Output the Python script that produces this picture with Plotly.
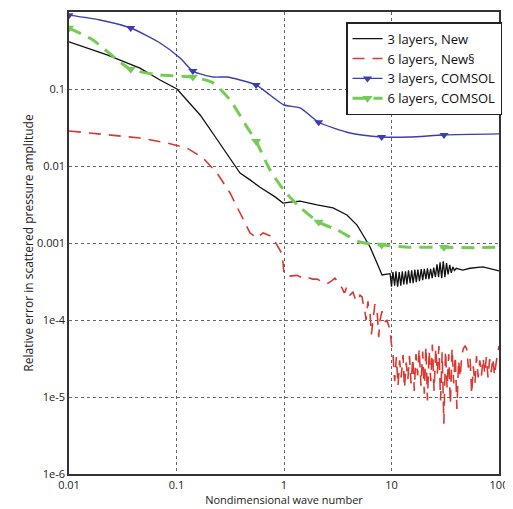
import plotly.graph_objects as go

# ---- 3 layers, New (black) ----
new3_x = [0.01, 0.0226, 0.0457, 0.0703, 0.101, 0.166, 0.23, 0.336, 0.39, 0.483, 0.598, 0.82, 0.98,
          1.14, 1.41, 2.03, 2.86, 3.85, 4.78, 5.43, 6.31, 7.33, 8.16, 9.08,
          9.7, 10.0, 10.3, 10.7, 11.0, 11.4, 11.8, 12.2, 12.6, 13.0, 13.5, 13.9, 14.4, 14.9, 15.4, 15.9,
          16.5, 17.0, 17.6, 18.2, 18.9, 19.5, 20.2, 20.9, 21.6, 22.3, 23.1, 23.9, 24.7, 25.6, 26.5, 27.4,
          28.3, 29.3, 30.3, 31.4, 32.5, 33.6, 34.8, 36.0, 37.2, 38.5, 40.0,
          46.0, 53.7, 71.0, 85.0, 100.0]
new3_y = [0.41, 0.277, 0.187, 0.131, 0.1, 0.046, 0.0238, 0.0109, 0.0081, 0.0066, 0.0053, 0.0040, 0.0033,
          0.0034, 0.0035, 0.00312, 0.00285, 0.00231, 0.00171, 0.00127, 8.9e-4, 5.5e-4, 3.84e-4, 3.95e-4,
          4.0e-4, 2.7e-4, 4.2e-4, 2.8e-4, 4.3e-4, 2.7e-4, 4.2e-4, 2.8e-4, 4.3e-4, 2.9e-4, 4.3e-4, 2.9e-4,
          4.4e-4, 3.0e-4, 4.4e-4, 3.0e-4, 4.5e-4, 3.1e-4, 4.5e-4, 3.2e-4, 4.6e-4, 3.3e-4, 4.6e-4, 3.4e-4,
          4.7e-4, 3.4e-4, 4.6e-4, 3.5e-4, 4.8e-4, 3.6e-4, 5.3e-4, 3.6e-4, 5.6e-4, 3.5e-4, 5.8e-4, 3.6e-4,
          5.5e-4, 3.9e-4, 5.2e-4, 4.1e-4, 4.9e-4, 4.4e-4, 4.7e-4,
          4.45e-4, 4.7e-4, 4.9e-4, 4.6e-4, 4.35e-4]

# ---- 6 layers, New (red dashed) ----
new6_x = [0.01, 0.0226, 0.0457, 0.0816, 0.125, 0.177, 0.238, 0.315, 0.39, 0.483, 0.56, 0.638, 0.78,
          0.95, 0.98, 1.0, 1.1, 1.32, 1.5, 1.64, 1.85, 2.03, 2.3, 2.51, 2.75, 2.98, 3.2, 3.47, 3.6, 3.69,
          3.8, 3.94, 4.1, 4.38, 4.6, 4.88, 5.1, 5.32, 5.5, 5.66, 5.8, 6.04, 6.2, 6.31, 6.5, 6.73, 7.0,
          7.33, 7.6, 7.82, 8.16, 8.5, 8.8, 9.08, 9.4, 9.7, 10.0,
          10.3, 10.7, 11.1, 11.5, 11.9, 12.3, 12.8, 13.2, 13.7, 14.2, 14.7, 15.2, 15.8, 16.3, 16.9, 17.5,
          18.1, 18.8, 19.5, 20.2, 20.9, 21.6, 22.4, 23.2, 24.0, 24.9, 25.8, 26.7, 27.6, 28.6, 29.6, 30.7,
          31.8, 32.9, 34.1, 35.3, 36.6, 37.9, 39.2, 40.6, 42.1, 43.6, 45.1, 46.7, 48.4, 50.1, 51.9, 53.8,
          55.7, 57.7, 59.7, 61.8, 64.0, 66.3, 68.7, 71.1, 73.7, 76.3, 79.0, 81.8, 84.7, 87.7, 90.8, 94.1,
          97.4, 100.0]
new6_y = [0.0285, 0.0253, 0.0231, 0.0199, 0.0171, 0.0127, 0.0081, 0.00446, 0.00245, 0.00135, 0.00116,
          0.00135, 0.0012, 7.4e-4, 5.5e-4, 3.9e-4, 3.7e-4, 3.8e-4, 3.5e-4, 3.6e-4, 3.4e-4, 3.4e-4, 3.1e-4,
          2.95e-4, 3.2e-4, 3.5e-4, 3.0e-4, 2.6e-4, 2.3e-4, 2.3e-4, 2.6e-4, 2.6e-4, 2.1e-4, 2.3e-4, 1.9e-4,
          1.75e-4, 2.1e-4, 2.0e-4, 1.5e-4, 1.3e-4, 1.0e-4, 1.75e-4, 1.3e-4, 1.23e-4, 6.5e-5, 1.0e-4,
          1.6e-4, 1.4e-4, 6.0e-5, 1.0e-4, 1.3e-4, 1.1e-4, 9.4e-5, 1.0e-4, 8.5e-5, 7.3e-5, 4.8e-5,
          3.8e-5, 1.6e-5, 3.3e-5, 1.4e-5, 3.0e-5, 1.8e-5, 3.5e-5, 1.3e-5, 2.8e-5, 1.7e-5, 3.4e-5, 1.5e-5,
          3.2e-5, 1.2e-5, 3.6e-5, 1.9e-5, 4.2e-5, 1.4e-5, 3.9e-5, 1.1e-5, 4.5e-5, 9e-6, 4.0e-5, 1.6e-5,
          4.8e-5, 1.2e-5, 4.3e-5, 2.0e-5, 4.6e-5, 9e-6, 3.8e-5, 4.5e-6, 4.0e-5, 1.3e-5, 3.6e-5, 8e-6,
          4.3e-5, 1.5e-5, 3.4e-5, 7e-6, 3.0e-5, 1.8e-5, 3.5e-5, 4.3e-5, 4.6e-5, 4.2e-5, 2.4e-5, 3.2e-5,
          1.1e-5, 2.5e-5, 1.5e-5, 3.4e-5, 1.8e-5, 3.0e-5, 1.9e-5, 3.2e-5, 2.0e-5, 3.3e-5, 1.8e-5, 3.1e-5,
          2.1e-5, 3.2e-5, 1.9e-5, 2.8e-5, 3.8e-5, 4.6e-5]

# ---- 3 layers, COMSOL (blue, triangle markers) ----
com3_x = [0.01, 0.0194, 0.0375, 0.0703, 0.108, 0.142, 0.219, 0.295, 0.39, 0.55, 0.741, 1.0, 1.41,
          2.1, 4.11, 8.1, 14.9, 30.8, 100.0]
com3_y = [0.91, 0.787, 0.62, 0.396, 0.253, 0.171, 0.143, 0.143, 0.131, 0.113, 0.0836, 0.062, 0.0567,
          0.037, 0.0268, 0.0238, 0.0238, 0.0253, 0.0261]
com3_marks = [0, 2, 5, 9, 13, 15, 17]

# ---- 6 layers, COMSOL (green dashed, triangle markers) ----
com6_x = [0.01, 0.0167, 0.0268, 0.0375, 0.0703, 0.142, 0.219, 0.315, 0.453, 0.55, 0.741, 1.0, 1.41,
          2.1, 3.11, 5.09, 8.1, 15.0, 30.8, 60.0, 100.0]
com6_y = [0.62, 0.433, 0.253, 0.18, 0.152, 0.143, 0.12, 0.072, 0.032, 0.021, 0.0089, 0.0048, 0.0029,
          0.00187, 0.00148, 0.00103, 9.4e-4, 8.8e-4, 8.8e-4, 8.7e-4, 8.8e-4]
com6_marks = [0, 3, 5, 9, 13, 16, 18]

x_ticks = [0.01, 0.1, 1, 10, 100]
x_ticktext = ["0.01", "0.1", "1", "10", "100"]
y_ticks = [1, 0.1, 0.01, 0.001, 1e-4, 1e-5, 1e-6]
y_ticktext = ["1", "0.1", "0.01", "0.001", "1e-4", "1e-5", "1e-6"]

BLACK = "#111111"
RED = "#d83a32"
BLUE = "#3c3cb4"
GREEN = "#74cc55"

fig = go.Figure()

fig.add_trace(go.Scatter(x=new3_x, y=new3_y, mode="lines", name="3 layers, New",
                         line=dict(color=BLACK, width=1.3)))
fig.add_trace(go.Scatter(x=new6_x, y=new6_y, mode="lines", name="6 layers, New§",
                         line=dict(color=RED, width=1.6, dash="12px,8px")))

# blue: line + subset markers + legend entry
fig.add_trace(go.Scatter(x=com3_x, y=com3_y, mode="lines", showlegend=False, legendgroup="c3",
                         line=dict(color=BLUE, width=1.4, shape="spline", smoothing=0.6)))
fig.add_trace(go.Scatter(x=[com3_x[i] for i in com3_marks], y=[com3_y[i] for i in com3_marks],
                         mode="markers", showlegend=False, legendgroup="c3",
                         marker=dict(symbol="triangle-down", size=8, color=BLUE)))
fig.add_trace(go.Scatter(x=[None], y=[None], mode="lines+markers", name="3 layers, COMSOL",
                         legendgroup="c3", line=dict(color=BLUE, width=1.4),
                         marker=dict(symbol="triangle-down", size=8, color=BLUE)))

# green
fig.add_trace(go.Scatter(x=com6_x, y=com6_y, mode="lines", showlegend=False, legendgroup="c6",
                         line=dict(color=GREEN, width=3, dash="13px,8px", shape="spline", smoothing=0.6)))
fig.add_trace(go.Scatter(x=[com6_x[i] for i in com6_marks], y=[com6_y[i] for i in com6_marks],
                         mode="markers", showlegend=False, legendgroup="c6",
                         marker=dict(symbol="triangle-down", size=9, color=GREEN)))
fig.add_trace(go.Scatter(x=[None], y=[None], mode="lines+markers", name="6 layers, COMSOL",
                         legendgroup="c6", line=dict(color=GREEN, width=3, dash="13px,8px"),
                         marker=dict(symbol="triangle-down", size=9, color=GREEN)))

axis_common = dict(
    type="log", showline=True, mirror=True, linecolor="#333333", linewidth=1.5,
    showgrid=True, gridcolor="#666666", griddash="dot", gridwidth=1,
    ticks="", zeroline=False, automargin=False,
    tickfont=dict(family="Open Sans", size=11, color="#222222"),
)

fig.update_xaxes(range=[-2, 2], tickvals=x_ticks, ticktext=x_ticktext,
                 title=dict(text="Nondimensional wave number", standoff=0,
                            font=dict(family="Open Sans", size=11, color="#222222")),
                 **axis_common)
fig.update_yaxes(range=[-6, 0], tickvals=y_ticks, ticktext=y_ticktext,
                 title=dict(text="Relative error in scattered pressure amplitude", standoff=0,
                            font=dict(family="Open Sans", size=12, color="#222222")),
                 **axis_common)

fig.update_layout(
    width=505, height=501,
    margin=dict(l=61, r=14, t=4, b=35, autoexpand=False),
    paper_bgcolor="white", plot_bgcolor="white",
    font=dict(family="Open Sans", color="#222222"),
    legend=dict(x=1.007, y=0.978, xanchor="right", yanchor="top",
                bgcolor="white", bordercolor="#222222", borderwidth=1.5,
                font=dict(family="Open Sans", size=13, color="#111111"),
                tracegroupgap=0, itemwidth=30, entrywidth=165, entrywidthmode="pixels"),
)

fig.write_html("out.html")
